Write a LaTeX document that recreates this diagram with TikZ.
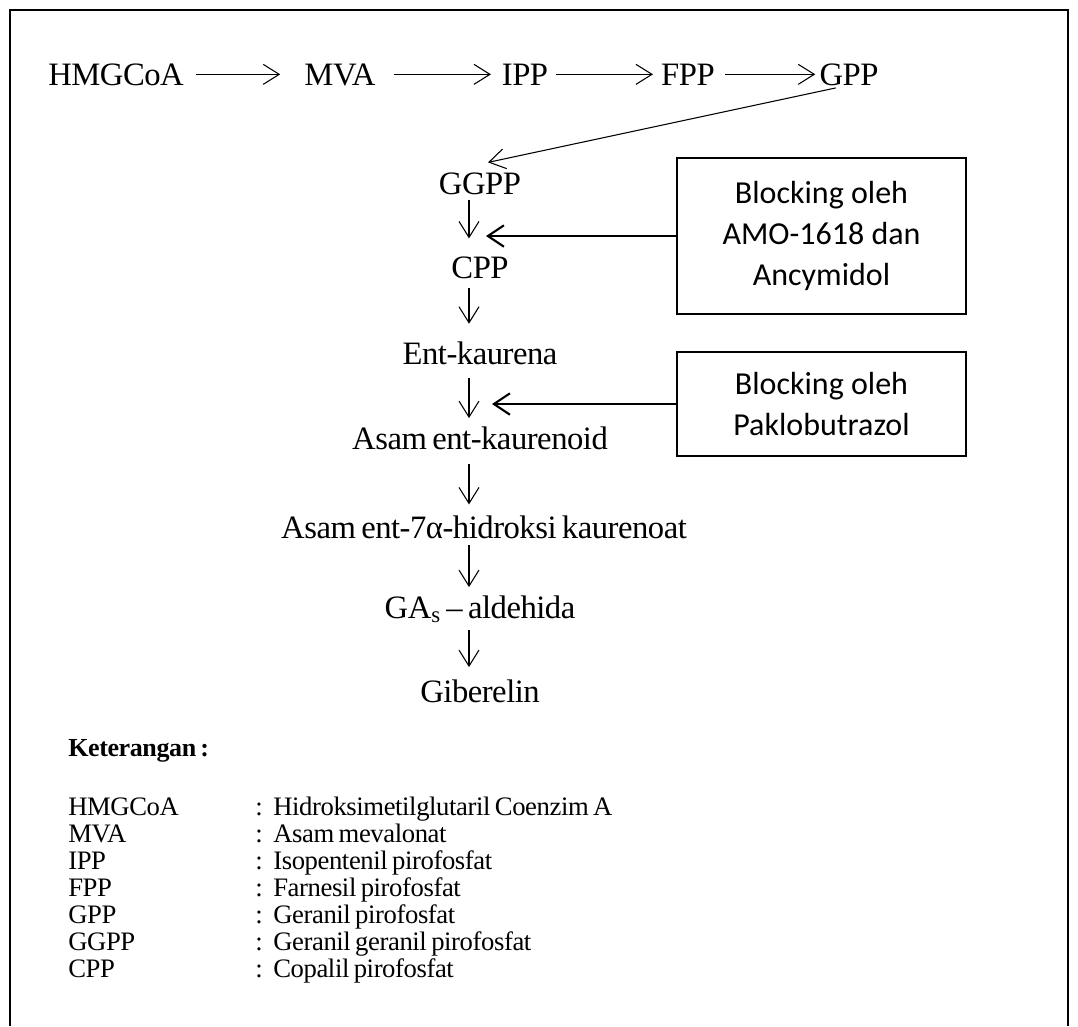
\documentclass[tikz,border=0pt]{standalone}
\usepackage{fontspec}
\setmainfont{Liberation Serif}[LetterSpace=-1.5, WordSpace=0.7]
\newfontfamily\boxfont{Carlito}
\usetikzlibrary{arrows.meta,positioning,calc}

\begin{document}
\begin{tikzpicture}[x=0.75pt, y=-0.75pt,
    chem/.style={anchor=base, inner sep=0pt, text height=16pt, text depth=0pt, font=\fontsize{24.5}{29}\selectfont},
    legend/.style={anchor=base west, inner sep=0pt, font=\fontsize{20}{24}\selectfont},
    blockbox/.style={draw, line width=1pt, minimum width=216.75pt, align=center, font=\boxfont\fontsize{24}{30.5}\selectfont},
    arr/.style={-{Straight Barb[length=12pt,width=15pt]}, line width=0.8pt},
    blockarr/.style={-{Straight Barb[length=12pt,width=16pt]}, line width=1.6pt}]
    \useasboundingbox (0,0) rectangle (1078,1026);
    % Frame, open at the bottom
    \draw[line width=1.1pt] (10,1026) -- (10,10) -- (1068,10) -- (1068,1026);

    % Top row
    \node[chem] (hmg) at (116,85) {HMGCoA};
    \node[chem] (mva) at (340,85) {MVA};
    \node[chem] (ipp) at (525,85) {IPP};
    \node[chem] (fpp) at (688,85) {FPP};
    \node[chem] (gpp) at (849,85) {GPP};

    \draw[arr, shorten <=9pt, shorten >=18pt] (hmg.east) -- (mva.west);
    \draw[arr, shorten <=14pt, shorten >=8pt] (mva.east) -- (ipp.west);
    \draw[arr, shorten <=6pt, shorten >=6pt] (ipp.east) -- (fpp.west);
    \draw[arr, shorten <=7.5pt, shorten >=3pt] (fpp.east) -- (gpp.west);

    % Main chain
    \node[chem] (ggpp) at (480,194) {GGPP};
    \node[chem] (cpp) at (480,278) {CPP};
    \node[chem] (ent) at (480,364) {Ent-kaurena};
    \node[chem] (asamk) at (480,449) {Asam ent-kaurenoid};
    \node[chem] (asam7) at (484,538) {Asam ent-7α-hidroksi kaurenoat};
    \node[chem] (gas) at (480,618) {GA\textsubscript{s} -- aldehida};
    \node[chem] (gib) at (480,702) {Giberelin};

    \draw[arr] ([shift={(-10pt,-2pt)}]gpp.south) -- ([shift={(6pt,7.5pt)}]ggpp.north);

    \coordinate (axis) at (469,0);
    \draw[arr, shorten <=4.5pt, shorten >=13.5pt] (ggpp.south -| axis) -- (cpp.north -| axis);
    \draw[arr, shorten <=7pt, shorten >=14pt] (cpp.south -| axis) -- (ent.north -| axis);
    \draw[arr, shorten <=10.5pt, shorten >=7pt] (ent.south -| axis) -- (asamk.north -| axis);
    \draw[arr, shorten <=11pt, shorten >=9pt] (asamk.south -| axis) -- (asam7.north -| axis);
    \draw[arr, shorten <=5pt, shorten >=7pt] (asam7.south -| axis) -- (gas.north -| axis);
    \draw[arr, shorten <=9pt, shorten >=10pt] (gas.south -| axis) -- (gib.north -| axis);

    % Blocking boxes
    \node[blockbox, minimum height=117pt] (box1) at (821.5,236) {Blocking oleh\\AMO-1618 dan\\Ancymidol};
    \node[blockbox, minimum height=78pt] (box2) at (821.5,404) {Blocking oleh\\Paklobutrazol};
    \coordinate (stop1) at (486,0);
    \coordinate (stop2) at (492,0);
    \draw[blockarr] (box1.west) -- (box1.west -| stop1);
    \draw[blockarr] (box2.west) -- (box2.west -| stop2);

    % Legend
    \node[legend, font=\bfseries\fontsize{19.5}{24}\selectfont] (ket) at (68,756) {Keterangan :};
    \foreach \abbr/\desc [count=\i] in {HMGCoA/Hidroksimetilglutaril Coenzim A, MVA/Asam mevalonat,
        IPP/Isopentenil pirofosfat, FPP/Farnesil pirofosfat, GPP/Geranil pirofosfat,
        GGPP/Geranil geranil pirofosfat, CPP/Copalil pirofosfat} {
        \node[legend] (lab\i) at (68,788+27*\i) {\abbr};
        \node[legend] (col\i) at (255,788+27*\i) {:};
        \node[legend] (dsc\i) at (273,788+27*\i) {\desc};
    }
\end{tikzpicture}
\end{document}
